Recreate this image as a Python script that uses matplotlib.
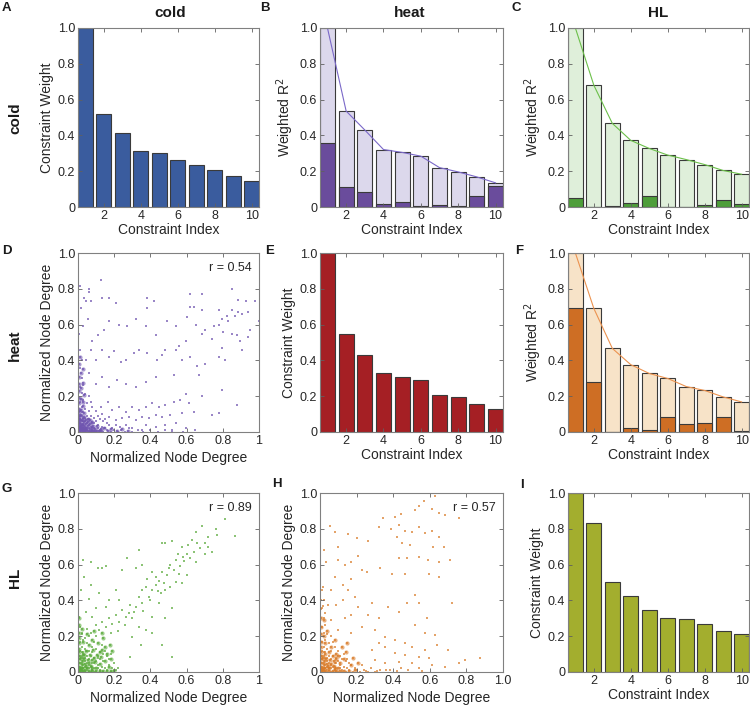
import matplotlib
matplotlib.use('Agg')
import matplotlib.pyplot as plt

plt.rcParams['font.family'] = ['Liberation Sans', 'DejaVu Sans']

# ---- bar data (constraint index 1..10) ----
idx = [1, 2, 3, 4, 5, 6, 7, 8, 9, 10]
cold_weight = [1.0, 0.52, 0.415, 0.312, 0.299, 0.265, 0.232, 0.204, 0.172, 0.144]
heat_weight = [1.0, 0.546, 0.43, 0.327, 0.308, 0.293, 0.206, 0.193, 0.159, 0.127]
hl_weight = [1.0, 0.834, 0.503, 0.423, 0.345, 0.304, 0.298, 0.268, 0.229, 0.214]

# weighted R^2: total (light bar + line) and explained part (dark bar)
heat_by_cold_total = [1.0, 0.536, 0.43, 0.321, 0.305, 0.284, 0.22, 0.196, 0.168, 0.135]
heat_by_cold_part = [0.36, 0.112, 0.086, 0.017, 0.028, 0.003, 0.013, 0.003, 0.06, 0.116]
hl_by_cold_total = [1.0, 0.68, 0.467, 0.372, 0.327, 0.29, 0.265, 0.237, 0.204, 0.183]
hl_by_cold_part = [0.053, 0.0, 0.003, 0.022, 0.064, 0.002, 0.0, 0.013, 0.041, 0.015]
hl_by_heat_total = [1.0, 0.69, 0.467, 0.376, 0.327, 0.299, 0.254, 0.232, 0.196, 0.168]
hl_by_heat_part = [0.69, 0.28, 0.0, 0.024, 0.009, 0.086, 0.043, 0.05, 0.086, 0.003]

# ---- scatter data (normalized node degree) ----
cold_heat_pts = [
    (0.126, 0.85), (0.01, 0.815), (0.06, 0.80), (0.062, 0.78), (0.035, 0.75), (0.07, 0.73),
    (0.044, 0.73), (0.016, 0.69), (0.135, 0.75), (0.17, 0.75), (0.21, 0.72), (0.38, 0.75),
    (0.38, 0.69), (0.42, 0.73), (0.617, 0.77), (0.685, 0.77), (0.85, 0.80), (0.883, 0.74),
    (0.927, 0.73), (0.98, 0.73), (1.0, 0.62), (0.62, 0.70), (0.64, 0.70), (0.685, 0.68),
    (0.78, 0.68), (0.85, 0.68), (0.886, 0.67), (0.905, 0.66), (0.94, 0.67), (0.868, 0.65),
    (0.822, 0.65), (0.795, 0.63), (0.83, 0.62), (0.78, 0.60), (0.75, 0.59), (0.70, 0.57),
    (0.685, 0.55), (0.74, 0.52), (0.80, 0.56), (0.85, 0.55), (0.877, 0.54), (0.895, 0.51),
    (0.94, 0.53), (0.95, 0.57), (0.795, 0.47), (0.777, 0.42), (0.813, 0.40), (0.65, 0.60),
    (0.60, 0.64), (0.54, 0.59), (0.49, 0.62), (0.43, 0.54), (0.374, 0.59), (0.32, 0.63),
    (0.273, 0.59), (0.227, 0.60), (0.172, 0.62), (0.145, 0.57), (0.108, 0.54), (0.08, 0.51),
    (0.053, 0.63), (0.026, 0.59), (0.007, 0.55), (0.594, 0.51), (0.557, 0.48), (0.54, 0.46),
    (0.483, 0.46), (0.465, 0.43), (0.437, 0.40), (0.383, 0.44), (0.337, 0.46), (0.31, 0.44),
    (0.264, 0.40), (0.236, 0.39), (0.2, 0.45), (0.172, 0.42), (0.135, 0.46), (0.099, 0.40),
    (0.071, 0.46), (0.044, 0.40), (0.658, 0.37), (0.62, 0.42), (0.575, 0.40), (0.70, 0.38),
    (0.905, 0.46), (0.667, 0.32), (0.53, 0.32), (0.43, 0.31), (0.374, 0.28), (0.32, 0.25),
    (0.264, 0.27), (0.218, 0.29), (0.172, 0.25), (0.135, 0.31), (0.099, 0.27), (0.062, 0.33),
    (0.795, 0.235), (0.685, 0.20), (0.594, 0.21), (0.566, 0.18), (0.53, 0.17), (0.483, 0.15),
    (0.447, 0.14), (0.41, 0.16), (0.374, 0.14), (0.337, 0.123), (0.30, 0.14), (0.264, 0.113),
    (0.227, 0.14), (0.19, 0.123), (0.163, 0.17), (0.126, 0.14), (0.877, 0.15), (0.777, 0.104),
    (0.74, 0.095), (0.612, 0.16), (0.64, 0.114), (0.575, 0.104), (0.51, 0.095), (0.465, 0.086),
    (0.43, 0.095), (0.392, 0.076), (0.355, 0.086), (0.32, 0.067), (0.282, 0.086), (0.245, 0.076),
    (0.21, 0.067), (0.172, 0.086), (0.54, 0.048), (0.483, 0.039), (0.43, 0.03), (0.374, 0.039),
    (0.594, 0.02), (0.648, 0.011), (0.52, 0.011), (0.355, 0.011), (0.30, 0.02), (0.264, 0.039),
    (0.00, 0.00), (0.01, 0.00), (0.02, 0.01), (0.00, 0.02), (0.01, 0.03), (0.03, 0.00),
    (0.04, 0.01), (0.02, 0.04), (0.00, 0.05), (0.05, 0.02), (0.06, 0.00), (0.03, 0.06),
    (0.01, 0.07), (0.07, 0.03), (0.08, 0.01), (0.04, 0.08), (0.02, 0.09), (0.09, 0.02),
    (0.10, 0.00), (0.05, 0.05), (0.06, 0.07), (0.08, 0.05), (0.00, 0.10), (0.01, 0.12),
    (0.03, 0.11), (0.11, 0.04), (0.12, 0.01), (0.13, 0.03), (0.07, 0.09), (0.09, 0.08),
    (0.10, 0.06), (0.02, 0.14), (0.00, 0.15), (0.04, 0.13), (0.14, 0.00), (0.15, 0.02),
    (0.16, 0.01), (0.06, 0.12), (0.11, 0.09), (0.12, 0.07), (0.01, 0.17), (0.03, 0.18),
    (0.00, 0.20), (0.02, 0.22), (0.05, 0.16), (0.08, 0.14), (0.18, 0.00), (0.19, 0.02),
    (0.20, 0.01), (0.17, 0.04), (0.14, 0.06), (0.01, 0.25), (0.00, 0.28), (0.02, 0.30),
    (0.03, 0.26), (0.04, 0.21), (0.00, 0.33), (0.01, 0.36), (0.02, 0.40), (0.00, 0.43),
    (0.01, 0.46), (0.22, 0.00), (0.24, 0.01), (0.26, 0.00), (0.28, 0.02), (0.30, 0.00),
    (0.33, 0.01), (0.36, 0.00), (0.40, 0.01), (0.44, 0.00), (0.48, 0.01), (0.52, 0.00),
    (0.58, 0.00), (0.21, 0.04), (0.23, 0.03), (0.06, 0.20), (0.07, 0.17), (0.10, 0.12),
    (0.13, 0.10), (0.15, 0.07), (0.16, 0.05), (0.01, 0.01), (0.02, 0.02), (0.00, 0.01),
    (0.01, 0.02), (0.03, 0.02), (0.02, 0.03), (0.04, 0.03), (0.03, 0.04), (0.05, 0.01),
    (0.01, 0.05), (0.06, 0.04), (0.04, 0.06), (0.00, 0.07), (0.07, 0.00), (0.02, 0.06),
    (0.06, 0.02), (0.08, 0.03), (0.03, 0.08), (0.05, 0.09), (0.09, 0.05), (0.11, 0.02),
    (0.02, 0.11), (0.00, 0.04), (0.04, 0.00), (0.01, 0.09), (0.09, 0.00), (0.00, 0.12),
    (0.12, 0.00),
]
cold_heat_core = [
    (0.005, 0.005), (0.015, 0.005), (0.025, 0.005), (0.035, 0.005), (0.045, 0.005),
    (0.055, 0.005), (0.065, 0.005), (0.075, 0.005), (0.085, 0.005), (0.095, 0.005),
    (0.105, 0.005), (0.115, 0.005), (0.125, 0.005), (0.005, 0.015), (0.005, 0.025),
    (0.005, 0.035), (0.005, 0.045), (0.005, 0.055), (0.005, 0.065), (0.005, 0.075),
    (0.005, 0.085), (0.005, 0.095), (0.005, 0.11), (0.005, 0.13), (0.005, 0.16),
    (0.005, 0.19), (0.005, 0.23), (0.005, 0.27), (0.005, 0.31), (0.005, 0.38),
    (0.015, 0.015), (0.025, 0.025), (0.035, 0.035), (0.045, 0.045), (0.055, 0.035),
    (0.035, 0.055), (0.015, 0.035), (0.035, 0.015), (0.025, 0.045), (0.045, 0.025),
    (0.065, 0.015), (0.015, 0.065), (0.055, 0.055), (0.065, 0.045), (0.045, 0.065),
    (0.075, 0.025), (0.025, 0.075), (0.085, 0.035), (0.035, 0.085), (0.015, 0.045),
    (0.045, 0.015), (0.025, 0.015), (0.015, 0.025), (0.075, 0.055), (0.055, 0.075),
    (0.095, 0.015), (0.015, 0.095), (0.065, 0.065), (0.105, 0.035), (0.035, 0.105),
    (0.125, 0.015), (0.015, 0.125), (0.145, 0.025), (0.025, 0.145), (0.165, 0.005),
    (0.185, 0.015), (0.215, 0.005), (0.245, 0.015), (0.275, 0.005), (0.025, 0.165),
    (0.015, 0.185), (0.035, 0.205), (0.015, 0.245), (0.025, 0.275), (0.015, 0.33),
    (0.025, 0.35), (0.01, 0.42),
]

cold_hl_pts = [
    (0.81, 0.855), (0.87, 0.76), (0.76, 0.80), (0.685, 0.815), (0.77, 0.765), (0.72, 0.756),
    (0.74, 0.67), (0.70, 0.66), (0.65, 0.78), (0.63, 0.74), (0.66, 0.72), (0.61, 0.71),
    (0.575, 0.70), (0.676, 0.69), (0.64, 0.67), (0.60, 0.66), (0.55, 0.66), (0.52, 0.73),
    (0.48, 0.72), (0.465, 0.72), (0.62, 0.635), (0.585, 0.62), (0.54, 0.625), (0.566, 0.59),
    (0.53, 0.57), (0.51, 0.60), (0.49, 0.54), (0.465, 0.56), (0.447, 0.51), (0.43, 0.53),
    (0.41, 0.56), (0.383, 0.52), (0.43, 0.486), (0.474, 0.495), (0.51, 0.477), (0.54, 0.505),
    (0.557, 0.55), (0.483, 0.46), (0.456, 0.44), (0.41, 0.46), (0.374, 0.477), (0.355, 0.46),
    (0.392, 0.42), (0.337, 0.42), (0.355, 0.384), (0.32, 0.365), (0.29, 0.374), (0.31, 0.337),
    (0.282, 0.328), (0.264, 0.31), (0.245, 0.346), (0.227, 0.28), (0.21, 0.32), (0.19, 0.27),
    (0.172, 0.30), (0.154, 0.253), (0.135, 0.28), (0.117, 0.235), (0.099, 0.26), (0.337, 0.253),
    (0.374, 0.235), (0.30, 0.197), (0.41, 0.216), (0.346, 0.15), (0.465, 0.15), (0.52, 0.086),
    (0.29, 0.086), (0.483, 0.30), (0.52, 0.356), (0.026, 0.626), (0.07, 0.616), (0.108, 0.58),
    (0.135, 0.58), (0.154, 0.59), (0.273, 0.635), (0.245, 0.57), (0.337, 0.68), (0.32, 0.58),
    (0.355, 0.60), (0.035, 0.53), (0.016, 0.46), (0.071, 0.486), (0.117, 0.44), (0.062, 0.41),
    (0.172, 0.40), (0.21, 0.46), (0.227, 0.40), (0.154, 0.365), (0.099, 0.356), (0.044, 0.337),
    (0.007, 0.31), (0.08, 0.31), (0.41, 0.31), (0.447, 0.384), (0.575, 0.495), (0.60, 0.54),
    (0.65, 0.615), (0.70, 0.72), (0.72, 0.70), (0.58, 0.64), (0.50, 0.58), (0.44, 0.45),
    (0.40, 0.40), (0.36, 0.34), (0.30, 0.30), (0.26, 0.26), (0.22, 0.23), (0.18, 0.22),
    (0.00, 0.00), (0.01, 0.00), (0.02, 0.01), (0.00, 0.02), (0.01, 0.03), (0.03, 0.00),
    (0.04, 0.01), (0.02, 0.04), (0.00, 0.05), (0.05, 0.02), (0.06, 0.00), (0.03, 0.06),
    (0.01, 0.07), (0.07, 0.03), (0.08, 0.01), (0.04, 0.08), (0.02, 0.09), (0.09, 0.02),
    (0.10, 0.00), (0.05, 0.05), (0.06, 0.07), (0.08, 0.05), (0.00, 0.10), (0.01, 0.12),
    (0.03, 0.11), (0.11, 0.04), (0.12, 0.01), (0.13, 0.03), (0.07, 0.09), (0.09, 0.08),
    (0.10, 0.06), (0.02, 0.14), (0.00, 0.15), (0.04, 0.13), (0.14, 0.00), (0.15, 0.02),
    (0.16, 0.01), (0.06, 0.12), (0.11, 0.09), (0.12, 0.07), (0.01, 0.17), (0.03, 0.18),
    (0.00, 0.20), (0.02, 0.22), (0.05, 0.16), (0.08, 0.14), (0.18, 0.00), (0.19, 0.02),
    (0.20, 0.01), (0.17, 0.04), (0.14, 0.06), (0.01, 0.25), (0.00, 0.28), (0.02, 0.21),
    (0.04, 0.19), (0.06, 0.20), (0.09, 0.17), (0.10, 0.13), (0.12, 0.11), (0.13, 0.15),
    (0.15, 0.12), (0.16, 0.09), (0.17, 0.07), (0.18, 0.10), (0.07, 0.22), (0.05, 0.24),
    (0.10, 0.20), (0.21, 0.01), (0.22, 0.02), (0.20, 0.05), (0.01, 0.01), (0.02, 0.02),
    (0.00, 0.01), (0.01, 0.02), (0.03, 0.02), (0.02, 0.03), (0.04, 0.03), (0.03, 0.04),
    (0.05, 0.01), (0.01, 0.05), (0.06, 0.04), (0.04, 0.06), (0.00, 0.07), (0.07, 0.00),
    (0.02, 0.06), (0.06, 0.02), (0.08, 0.03), (0.03, 0.08), (0.05, 0.09), (0.09, 0.05),
    (0.11, 0.02), (0.02, 0.11), (0.00, 0.04), (0.04, 0.00), (0.01, 0.09), (0.09, 0.00),
    (0.00, 0.12), (0.12, 0.00), (0.08, 0.11), (0.11, 0.08), (0.05, 0.12), (0.14, 0.10),
]
cold_hl_core = [
    (0.005, 0.005), (0.015, 0.005), (0.025, 0.005), (0.04, 0.005), (0.06, 0.005),
    (0.08, 0.005), (0.10, 0.005), (0.12, 0.005), (0.14, 0.005), (0.16, 0.005),
    (0.18, 0.008), (0.20, 0.005), (0.005, 0.015), (0.005, 0.03), (0.005, 0.05),
    (0.005, 0.07), (0.005, 0.09), (0.005, 0.11), (0.005, 0.13), (0.005, 0.16),
    (0.005, 0.19), (0.005, 0.22), (0.005, 0.26), (0.005, 0.30), (0.015, 0.015),
    (0.03, 0.02), (0.045, 0.035), (0.06, 0.05), (0.075, 0.065), (0.09, 0.08),
    (0.105, 0.095), (0.12, 0.11), (0.135, 0.125), (0.15, 0.14), (0.02, 0.05),
    (0.05, 0.02), (0.035, 0.07), (0.07, 0.035), (0.025, 0.10), (0.10, 0.025),
    (0.045, 0.12), (0.12, 0.045), (0.06, 0.15), (0.15, 0.06), (0.03, 0.17),
    (0.17, 0.03), (0.08, 0.18), (0.11, 0.16), (0.14, 0.19), (0.05, 0.21),
    (0.09, 0.23), (0.02, 0.24), (0.13, 0.22), (0.175, 0.15), (0.19, 0.12),
    (0.16, 0.10), (0.185, 0.07), (0.065, 0.095), (0.095, 0.055), (0.085, 0.125),
    (0.125, 0.085), (0.015, 0.08), (0.08, 0.015), (0.04, 0.045), (0.055, 0.065),
    (0.035, 0.095),
]

heat_hl_pts = [
    (0.49, 1.0), (0.63, 0.985), (0.57, 0.955), (0.54, 0.93), (0.52, 0.905), (0.61, 0.91),
    (0.65, 0.89), (0.685, 0.875), (0.76, 0.86), (0.44, 0.885), (0.41, 0.865), (0.346, 0.86),
    (0.32, 0.81), (0.39, 0.80), (0.43, 0.82), (0.465, 0.79), (0.50, 0.78), (0.54, 0.81),
    (0.575, 0.775), (0.61, 0.79), (0.65, 0.756), (0.42, 0.756), (0.447, 0.72), (0.49, 0.71),
    (0.62, 0.70), (0.676, 0.70), (0.71, 0.625), (0.43, 0.635), (0.474, 0.635), (0.54, 0.645),
    (0.59, 0.625), (0.65, 0.615), (0.392, 0.55), (0.465, 0.55), (0.594, 0.55), (0.65, 0.53),
    (0.328, 0.58), (0.52, 0.43), (0.54, 0.384), (0.474, 0.384), (0.43, 0.337), (0.374, 0.365),
    (0.32, 0.30), (0.72, 0.384), (0.584, 0.30), (0.52, 0.263), (0.575, 0.216), (0.63, 0.207),
    (0.64, 0.15), (0.575, 0.123), (0.70, 0.123), (0.76, 0.048), (0.877, 0.076), (0.795, 0.067),
    (0.053, 0.815), (0.084, 0.78), (0.154, 0.77), (0.2, 0.75), (0.264, 0.73), (0.099, 0.70),
    (0.022, 0.68), (0.035, 0.616), (0.099, 0.626), (0.135, 0.60), (0.172, 0.616), (0.21, 0.65),
    (0.227, 0.57), (0.255, 0.56), (0.172, 0.52), (0.126, 0.486), (0.08, 0.53), (0.062, 0.46),
    (0.016, 0.477), (0.154, 0.46), (0.19, 0.42), (0.126, 0.40), (0.09, 0.374), (0.044, 0.374),
    (0.21, 0.365), (0.282, 0.384), (0.264, 0.32), (0.172, 0.32), (0.135, 0.30), (0.062, 0.29),
    (0.227, 0.253), (0.099, 0.235), (0.172, 0.216), (0.30, 0.235), (0.355, 0.197), (0.41, 0.18),
    (0.465, 0.16), (0.50, 0.14), (0.355, 0.14), (0.32, 0.16), (0.282, 0.123), (0.41, 0.104),
    (0.465, 0.095), (0.54, 0.086), (0.594, 0.076), (0.43, 0.058), (0.50, 0.048), (0.61, 0.039),
    (0.685, 0.03), (0.54, 0.02), (0.355, 0.048), (0.30, 0.067), (0.44, 0.02), (0.38, 0.01),
    (0.00, 0.00), (0.01, 0.00), (0.02, 0.01), (0.00, 0.02), (0.01, 0.03), (0.03, 0.00),
    (0.04, 0.01), (0.02, 0.04), (0.00, 0.05), (0.05, 0.02), (0.06, 0.00), (0.03, 0.06),
    (0.01, 0.07), (0.07, 0.03), (0.08, 0.01), (0.04, 0.08), (0.02, 0.09), (0.09, 0.02),
    (0.10, 0.00), (0.05, 0.05), (0.06, 0.07), (0.08, 0.05), (0.00, 0.10), (0.01, 0.12),
    (0.03, 0.11), (0.11, 0.04), (0.12, 0.01), (0.13, 0.03), (0.07, 0.09), (0.09, 0.08),
    (0.10, 0.06), (0.02, 0.14), (0.00, 0.15), (0.04, 0.13), (0.14, 0.00), (0.15, 0.02),
    (0.16, 0.01), (0.06, 0.12), (0.11, 0.09), (0.12, 0.07), (0.01, 0.17), (0.03, 0.18),
    (0.00, 0.20), (0.02, 0.22), (0.05, 0.16), (0.08, 0.14), (0.18, 0.00), (0.19, 0.02),
    (0.20, 0.01), (0.17, 0.04), (0.14, 0.06), (0.01, 0.25), (0.00, 0.28), (0.02, 0.30),
    (0.03, 0.26), (0.04, 0.21), (0.00, 0.33), (0.01, 0.36), (0.02, 0.40), (0.00, 0.43),
    (0.01, 0.46), (0.22, 0.00), (0.24, 0.01), (0.26, 0.00), (0.28, 0.02), (0.30, 0.00),
    (0.33, 0.01), (0.23, 0.04), (0.06, 0.20), (0.07, 0.17), (0.10, 0.12), (0.13, 0.10),
    (0.15, 0.07), (0.16, 0.05), (0.01, 0.01), (0.02, 0.02), (0.00, 0.01), (0.01, 0.02),
    (0.03, 0.02), (0.02, 0.03), (0.04, 0.03), (0.03, 0.04), (0.05, 0.01), (0.01, 0.05),
    (0.06, 0.04), (0.04, 0.06), (0.00, 0.07), (0.07, 0.00), (0.02, 0.06), (0.06, 0.02),
    (0.08, 0.03), (0.03, 0.08), (0.05, 0.09), (0.09, 0.05), (0.11, 0.02), (0.02, 0.11),
    (0.00, 0.04), (0.04, 0.00), (0.01, 0.09), (0.09, 0.00), (0.00, 0.12), (0.12, 0.00),
]
heat_hl_core = [
    (0.005, 0.005), (0.015, 0.005), (0.03, 0.005), (0.05, 0.005), (0.07, 0.005),
    (0.09, 0.005), (0.11, 0.005), (0.13, 0.008), (0.16, 0.005), (0.19, 0.01),
    (0.005, 0.015), (0.005, 0.03), (0.005, 0.05), (0.005, 0.07),
    (0.005, 0.09), (0.005, 0.11), (0.005, 0.14), (0.005, 0.17), (0.005, 0.21),
    (0.005, 0.25), (0.005, 0.30), (0.015, 0.015),
    (0.03, 0.02), (0.045, 0.035), (0.06, 0.045), (0.075, 0.06), (0.09, 0.07),
    (0.02, 0.05), (0.05, 0.02), (0.035, 0.075), (0.075, 0.035), (0.025, 0.10),
    (0.10, 0.025), (0.05, 0.11), (0.11, 0.05), (0.07, 0.09), (0.09, 0.10),
    (0.13, 0.07), (0.14, 0.11), (0.06, 0.14), (0.03, 0.16), (0.17, 0.04),
    (0.12, 0.14), (0.18, 0.08), (0.21, 0.05), (0.15, 0.16), (0.08, 0.18),
    (0.02, 0.20), (0.04, 0.23), (0.015, 0.08), (0.08, 0.015), (0.04, 0.045),
    (0.055, 0.065), (0.10, 0.09), (0.02, 0.29),
]
heat_hl_edge = [
    (0.25, 0.008), (0.31, 0.006), (0.36, 0.012), (0.42, 0.006), (0.48, 0.01),
    (0.56, 0.008), (0.005, 0.35), (0.008, 0.40), (0.03, 0.33), (0.015, 0.37),
]

r_values = ['r = 0.54', 'r = 0.89', 'r = 0.57']

fig = plt.figure(figsize=(7.5, 7.05), dpi=100)
W, H = 750.0, 705.0

def make_ax(left, top, right, bottom):
    return fig.add_axes([left / W, 1 - bottom / H, (right - left) / W, (bottom - top) / H])

cols = [(78, 259), (320, 503), (568, 749)]
rows = [(28, 207), (253, 432), (493, 672)]

def style(ax):
    for s in ax.spines.values():
        s.set_color('#808080')
        s.set_linewidth(0.8)
    ax.tick_params(direction='in', length=3, width=0.6, color='#606060',
                   top=True, right=True, labelsize=9, labelcolor='#262626', pad=2)
    ax.set_ylim(0, 1)
    ax.set_yticks([0, 0.2, 0.4, 0.6, 0.8, 1.0])
    ax.set_yticklabels(['0', '0.2', '0.4', '0.6', '0.8', '1.0'])

def bar_panel(ax, vals, color):
    ax.bar(idx, vals, width=0.8, color=color, edgecolor='#3a3a3a', linewidth=0.8)
    style(ax)
    ax.set_xlim(0.6, 10.4)
    ax.set_xticks([2, 4, 6, 8, 10])
    ax.set_xlabel('Constraint Index', fontsize=10, color='#262626', labelpad=1)
    ax.set_ylabel('Constraint Weight', fontsize=10, color='#262626', labelpad=3)

def r2_panel(ax, total, part, light, dark, line):
    ax.bar(idx, total, width=0.8, color=light, edgecolor='#3a3a3a', linewidth=0.8)
    ax.bar(idx, part, width=0.8, color=dark, edgecolor='#3a3a3a', linewidth=0.8)
    ax.plot(idx, total, color=line, linewidth=0.8)
    style(ax)
    ax.set_xlim(0.6, 10.4)
    ax.set_xticks([2, 4, 6, 8, 10])
    ax.set_xlabel('Constraint Index', fontsize=10, color='#262626', labelpad=1)
    ax.set_ylabel('Weighted R$^{2}$', fontsize=10, color='#262626', labelpad=3)

def scatter_panel(ax, pts, core, color, rtext, xlabels):
    xs = [p[0] for p in pts + core]
    ys = [p[1] for p in pts + core]
    ax.scatter(xs, ys, s=3, color=color, marker='s', linewidths=0, alpha=0.7)
    cx = [p[0] for p in core]
    cy = [p[1] for p in core]
    ax.scatter(cx, cy, s=9, color=color, marker='o', linewidths=0, alpha=0.6)
    style(ax)
    ax.set_xlim(0, 1)
    ax.set_xticks([0, 0.2, 0.4, 0.6, 0.8, 1.0])
    ax.set_xticklabels(xlabels)
    ax.set_xlabel('Normalized Node Degree', fontsize=10, color='#262626', labelpad=3)
    ax.set_ylabel('Normalized Node Degree', fontsize=10, color='#262626', labelpad=3)
    ax.text(0.96, 0.95, rtext, transform=ax.transAxes, ha='right', va='top',
            fontsize=9, color='#262626')

axA = make_ax(cols[0][0], rows[0][0], cols[0][1], rows[0][1])
axB = make_ax(cols[1][0], rows[0][0], cols[1][1], rows[0][1])
axC = make_ax(cols[2][0], rows[0][0], cols[2][1], rows[0][1])
axD = make_ax(cols[0][0], rows[1][0], cols[0][1], rows[1][1])
axE = make_ax(cols[1][0], rows[1][0], cols[1][1], rows[1][1])
axF = make_ax(cols[2][0], rows[1][0], cols[2][1], rows[1][1])
axG = make_ax(cols[0][0], rows[2][0], cols[0][1], rows[2][1])
axH = make_ax(cols[1][0], rows[2][0], 503, rows[2][1])
axI = make_ax(cols[2][0], rows[2][0], cols[2][1], rows[2][1])

bar_panel(axA, cold_weight, '#3A5C9E')
r2_panel(axB, heat_by_cold_total, heat_by_cold_part, '#DCD8EC', '#6A4C9C', '#7A68C8')
r2_panel(axC, hl_by_cold_total, hl_by_cold_part, '#DFEFDA', '#4E9E3A', '#6CC04A')
scatter_panel(axD, cold_heat_pts, cold_heat_core, '#7055B0', r_values[0],
              ['0', '0.2', '0.4', '0.6', '0.8', '1'])
bar_panel(axE, heat_weight, '#A51F24')
r2_panel(axF, hl_by_heat_total, hl_by_heat_part, '#F7E3C8', '#CE6E24', '#EC9350')
scatter_panel(axG, cold_hl_pts, cold_hl_core, '#5BAA3C', r_values[1],
              ['0', '0.2', '0.4', '0.6', '0.8', '1'])
scatter_panel(axH, heat_hl_pts + heat_hl_edge, heat_hl_core, '#D97C2A', r_values[2],
              ['0', '0.2', '0.4', '0.6', '0.8', '1.0'])
bar_panel(axI, hl_weight, '#A3AE2E')

# column titles, row labels, panel letters
for x, t in [(170, 'cold'), (410, 'heat'), (658, 'HL')]:
    fig.text(x / W, 1 - 13 / H, t, ha='center', va='center', fontsize=11,
             fontweight='bold', color='#1a1a1a')
for y, t in [(118, 'cold'), (345, 'heat'), (578, 'HL')]:
    fig.text(15 / W, 1 - y / H, t, ha='center', va='center', rotation=90,
             fontsize=11, fontweight='bold', color='#1a1a1a')
for x, y, t in [(2, 8, 'A'), (260, 8, 'B'), (511, 8, 'C'),
                (2, 251, 'D'), (265, 251, 'E'), (515, 251, 'F'),
                (2, 489, 'G'), (272, 484, 'H'), (520, 485, 'I')]:
    fig.text(x / W, 1 - y / H, t, ha='left', va='center', fontsize=9.5,
             fontweight='bold', color='#1a1a1a')

fig.savefig('out.png', dpi=100)
